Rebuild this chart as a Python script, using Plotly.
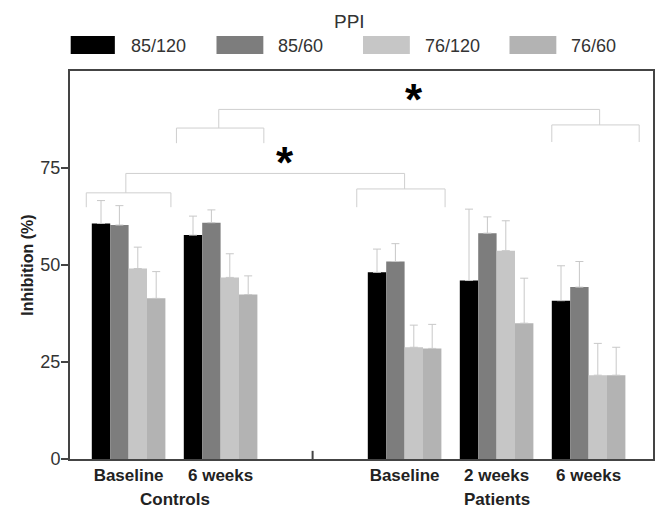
import plotly.graph_objects as go

# ---- data ----
groups = ["Baseline", "6 weeks", "Baseline", "2 weeks", "6 weeks"]
group_x = [0, 1, 3, 4, 5]          # slot 2 is the empty gap between Controls and Patients
series_names = ["85/120", "85/60", "76/120", "76/60"]
series_colors = ["#000000", "#7d7d7d", "#c6c6c6", "#b3b3b3"]

mean_85_120 = [60.7, 57.7, 48.1, 46.0, 40.8]
mean_85_60 = [60.3, 60.9, 50.9, 58.2, 44.3]
mean_76_120 = [49.1, 46.8, 28.8, 53.7, 21.6]
mean_76_60 = [41.4, 42.4, 28.5, 35.0, 21.6]

sd_85_120 = [5.9, 4.9, 6.0, 18.4, 9.0]
sd_85_60 = [5.0, 3.3, 4.6, 4.2, 6.6]
sd_76_120 = [5.5, 6.1, 5.7, 7.7, 8.2]
sd_76_60 = [6.9, 4.8, 6.2, 11.6, 7.2]

means = [mean_85_120, mean_85_60, mean_76_120, mean_76_60]
sds = [sd_85_120, sd_85_60, sd_76_120, sd_76_60]

# significance brackets: (left, right, stem x, bracket y, leg bottom y)
upper_left = (0.52, 1.47, 0.98, 85.3, 81.4)
upper_right = (4.60, 5.55, 5.12, 86.1, 81.7)
upper_top = 90.1
lower_left = (-0.46, 0.46, -0.03, 68.6, 64.9)
lower_right = (2.48, 3.44, 3.00, 69.6, 64.9)
lower_top = 73.6
star_upper = (3.1, 93.8)
star_lower = (1.70, 77.4)

FONT = "Liberation Sans, Arial, Helvetica, sans-serif"
BR_COLOR = "#cfcfcf"

fig = go.Figure()
for name, color, m, s in zip(series_names, series_colors, means, sds):
    fig.add_trace(go.Bar(
        x=group_x, y=m, name=name,
        marker=dict(color=color, line=dict(width=0)),
        error_y=dict(type="data", array=s, arrayminus=[0] * len(s), symmetric=False,
                     color="#c8c8c8", thickness=1, width=4),
        showlegend=False,
    ))

shapes = []

def bracket(b, top):
    l, r, stem, y, ybot = b
    shapes.append(dict(type="path", xref="x", yref="y",
                       path=f"M {l},{ybot} L {l},{y} L {r},{y} L {r},{ybot}",
                       line=dict(color=BR_COLOR, width=1)))
    shapes.append(dict(type="line", xref="x", yref="y", x0=stem, x1=stem, y0=y, y1=top,
                       line=dict(color=BR_COLOR, width=1)))

bracket(upper_left, upper_top)
bracket(upper_right, upper_top)
shapes.append(dict(type="line", xref="x", yref="y", x0=upper_left[2], x1=upper_right[2],
                   y0=upper_top, y1=upper_top, line=dict(color=BR_COLOR, width=1)))
bracket(lower_left, lower_top)
bracket(lower_right, lower_top)
shapes.append(dict(type="line", xref="x", yref="y", x0=lower_left[2], x1=lower_right[2],
                   y0=lower_top, y1=lower_top, line=dict(color=BR_COLOR, width=1)))

# small inner tick at the gap between the two groups
shapes.append(dict(type="line", xref="x", yref="y", x0=2, x1=2, y0=0, y1=2.1,
                   line=dict(color="#444444", width=2)))

annotations = []
for sx, sy in (star_upper, star_lower):
    annotations.append(dict(x=sx, y=sy, xref="x", yref="y", text="<b>*</b>",
                            showarrow=False, yanchor="middle", yshift=-4,
                            font=dict(family=FONT, size=44, color="#000000")))

# manual legend (positions in page pixels, converted to paper coordinates)
leg_swatch_x = [(70.7, 115), (217, 264), (364, 411), (511, 558)]
leg_text_x = [129, 277, 424, 571]
L, W, T, H = 70, 585, 71, 388

def px2paper_x(px):
    return (px - L) / W

def px2paper_y(py):
    return (T + H - py) / H

for (x0, x1), tx, name, color in zip(leg_swatch_x, leg_text_x, series_names, series_colors):
    shapes.append(dict(type="rect", xref="paper", yref="paper",
                       x0=px2paper_x(x0), x1=px2paper_x(x1),
                       y0=px2paper_y(54), y1=px2paper_y(36),
                       fillcolor=color, line=dict(width=0)))
    annotations.append(dict(x=px2paper_x(tx), y=px2paper_y(46), xref="paper", yref="paper",
                            text=name, showarrow=False, xanchor="left", yanchor="middle",
                            font=dict(family=FONT, size=18, color="#333333")))

annotations.append(dict(x=px2paper_x(350), y=px2paper_y(21), xref="paper", yref="paper",
                        text="PPI", showarrow=False, xanchor="center", yanchor="middle",
                        font=dict(family=FONT, size=19, color="#333333")))

# group labels
annotations.append(dict(x=0.5, y=px2paper_y(499), xref="x", yref="paper", text="<b>Controls</b>",
                        showarrow=False, yanchor="middle",
                        font=dict(family=FONT, size=17, color="#222222")))
annotations.append(dict(x=4, y=px2paper_y(499), xref="x", yref="paper", text="<b>Patients</b>",
                        showarrow=False, yanchor="middle",
                        font=dict(family=FONT, size=17, color="#222222")))

# the page body has an 8px margin, so the figure is shrunk/offset to keep the plot area in place
fig.update_layout(
    width=657, height=501,
    margin=dict(l=62, r=10, t=63, b=50),
    paper_bgcolor="white", plot_bgcolor="white",
    barmode="group", bargap=0.2, bargroupgap=0,
    shapes=shapes, annotations=annotations,
    showlegend=False,
    font=dict(family=FONT, color="#222222"),
)
fig.update_xaxes(
    range=[-0.637, 5.70], tickvals=group_x, ticktext=[f"<b>{g}</b>" for g in groups],
    ticks="", showgrid=False, zeroline=False,
    showline=True, linecolor="#444444", linewidth=2, mirror=True,
    tickfont=dict(family=FONT, size=17, color="#222222"),
)
fig.update_yaxes(
    range=[0, 100], tickvals=[0, 25, 50, 75],
    ticks="outside", ticklen=7, tickwidth=2, tickcolor="#444444",
    ticklabelstandoff=-3,
    showgrid=False, zeroline=False,
    showline=True, linecolor="#444444", linewidth=2, mirror=True,
    tickfont=dict(family=FONT, size=18, color="#333333"),
    title=dict(text="<b>Inhibition (%)</b>", font=dict(family=FONT, size=16, color="#222222"),
               standoff=3),
)

fig.write_html("out.html")
